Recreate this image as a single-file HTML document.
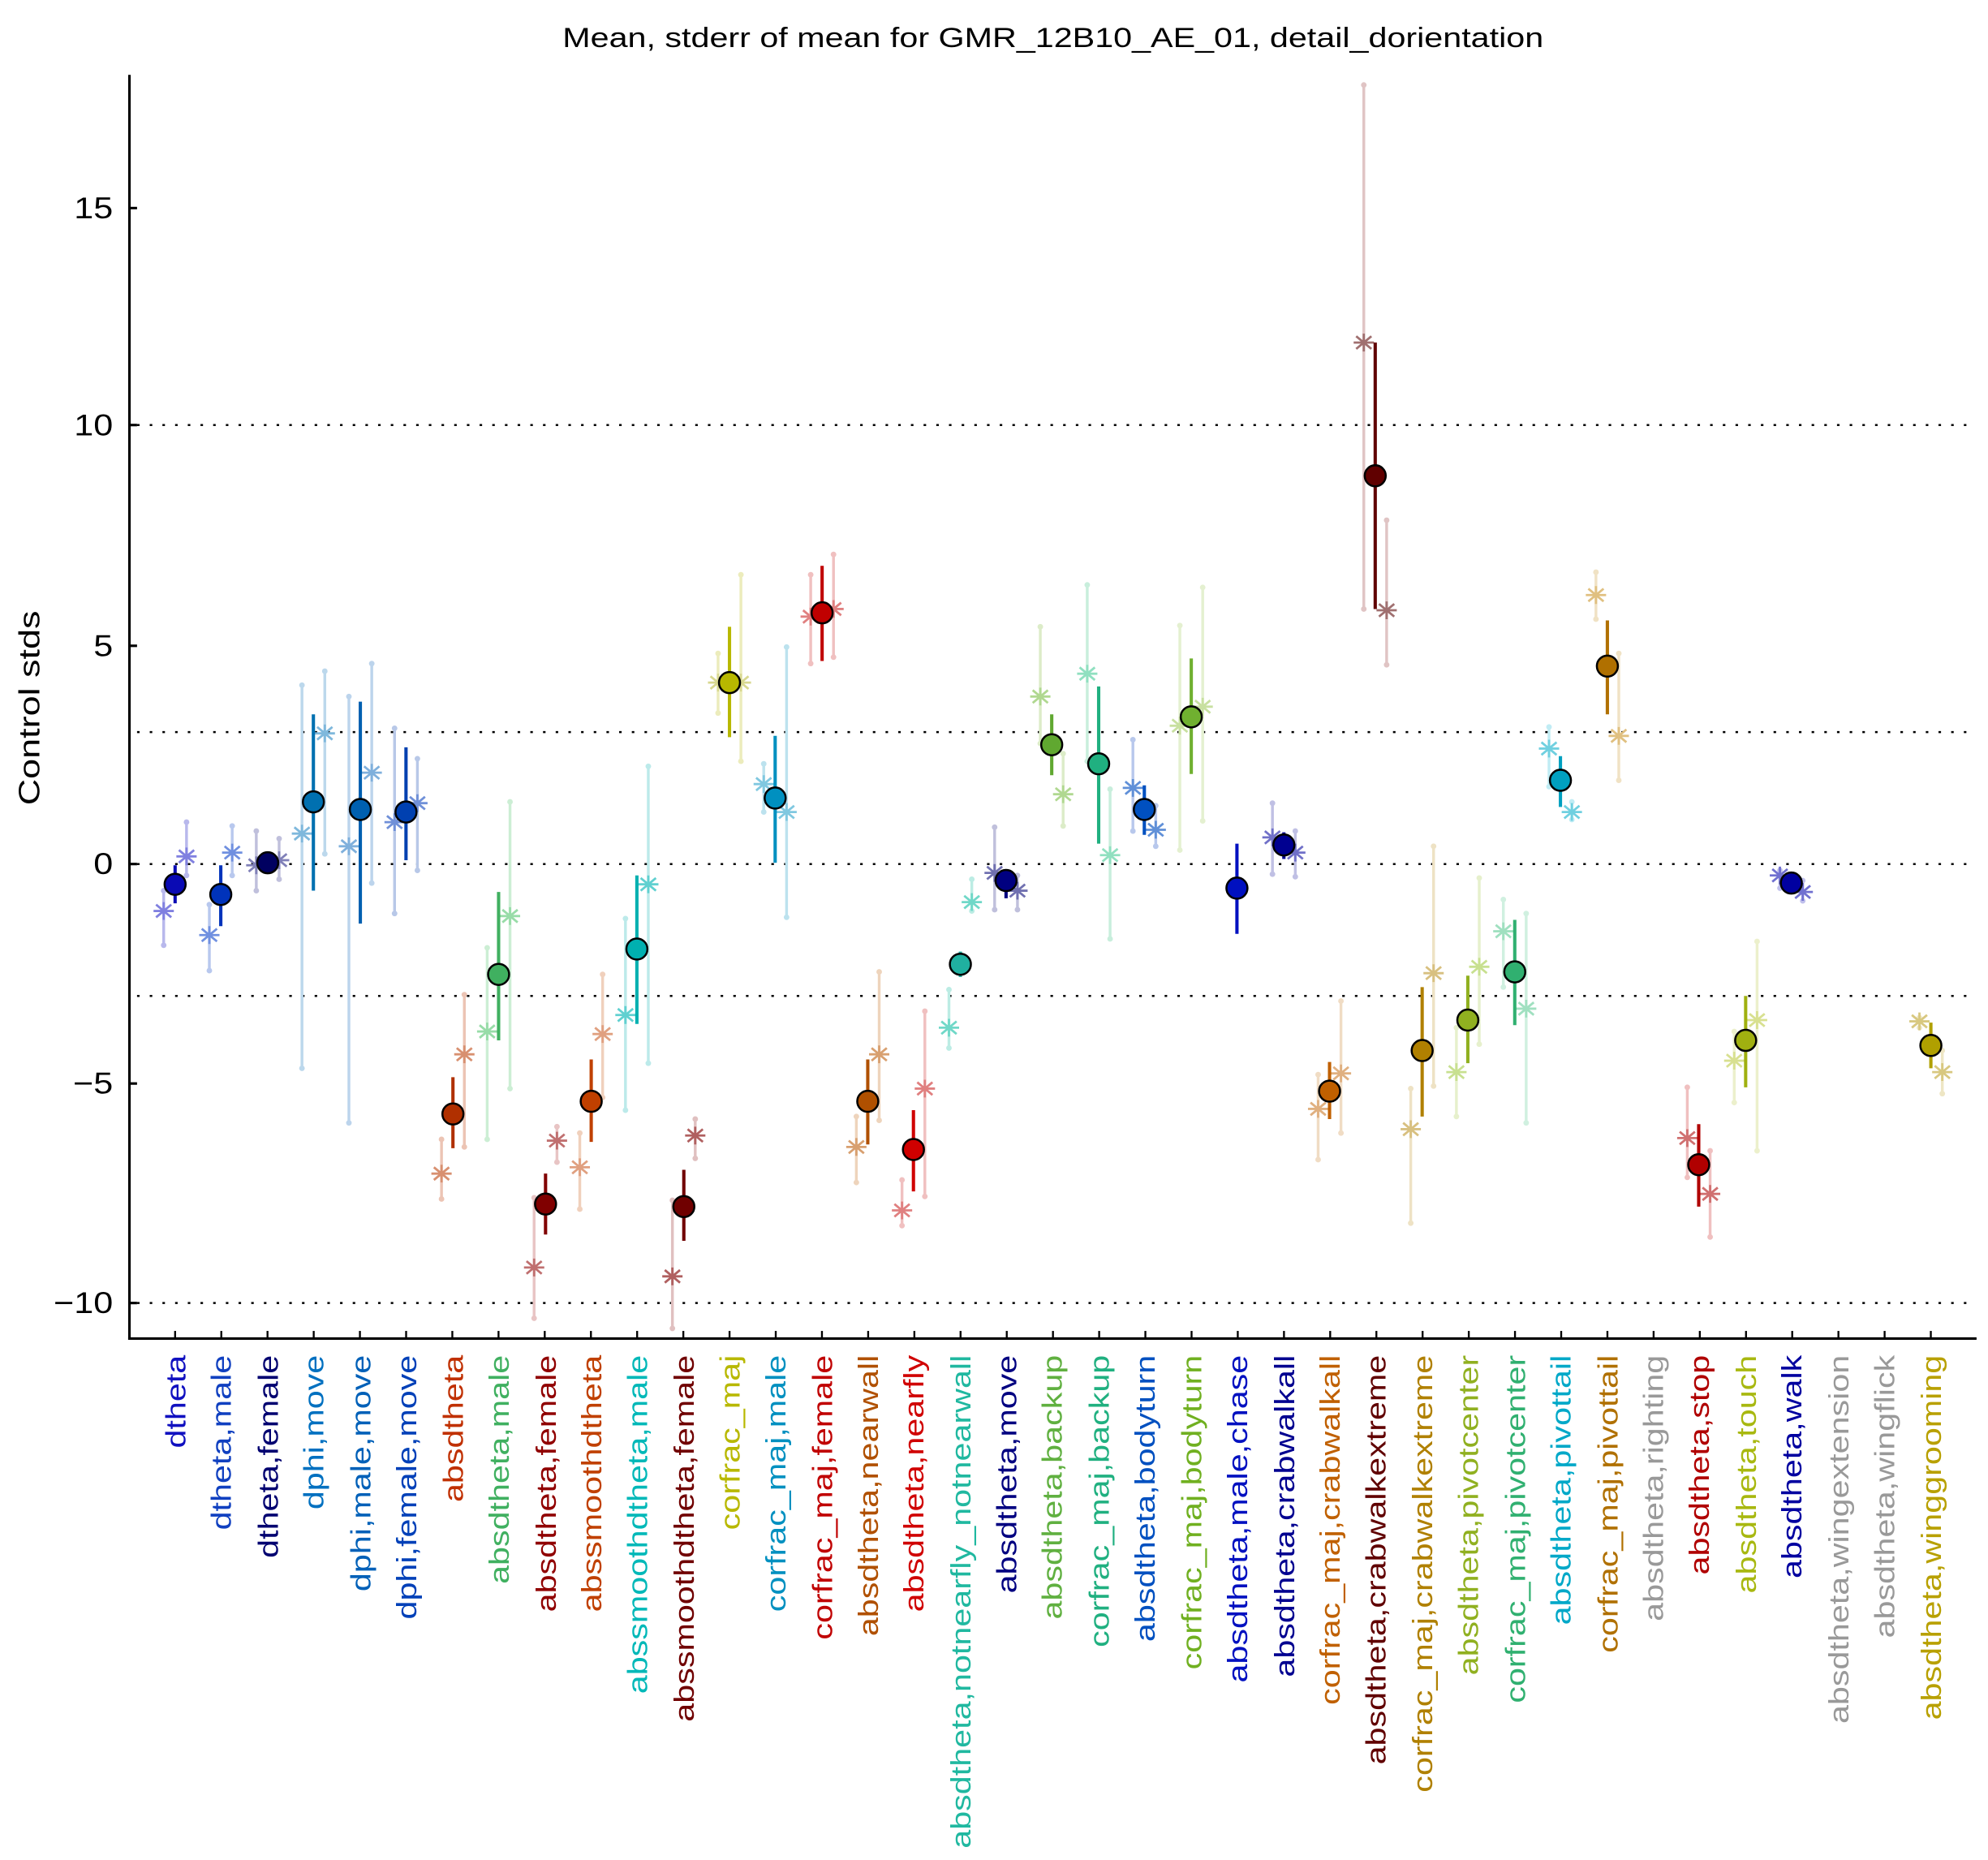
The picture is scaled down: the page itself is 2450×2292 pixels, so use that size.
<!DOCTYPE html>
<html><head><meta charset="utf-8"><style>
html,body{margin:0;padding:0;background:#fff;}
svg{display:block;}
text{font-family:"Liberation Sans",sans-serif;}
</style></head><body>
<svg id="s" width="2450" height="2292" viewBox="0 0 1567 1466" xmlns="http://www.w3.org/2000/svg">
<rect width="1567" height="1466" fill="#fff"/>
<text transform="translate(830,37) scale(1.2,1)" font-size="22" text-anchor="middle">Mean, stderr of mean for GMR_12B10_AE_01, detail_dorientation</text>
<text transform="translate(31,558) rotate(-90) scale(1.25,1)" font-size="23" text-anchor="middle">Control stds</text>
<g font-size="24" text-anchor="end">
<text transform="translate(89,172) scale(1.15,1)">15</text><text transform="translate(89,343) scale(1.15,1)">10</text><text transform="translate(89,517) scale(1.15,1)">5</text>
<text transform="translate(89,689) scale(1.15,1)">0</text><text transform="translate(89,862) scale(1.15,1)">−5</text><text transform="translate(89,1035) scale(1.15,1)">−10</text>
</g>
<g stroke="#000" stroke-width="1.6" stroke-dasharray="2,8" fill="none">
<line x1="108" y1="335" x2="1558" y2="335"/><line x1="108" y1="577" x2="1558" y2="577"/>
<line x1="108" y1="681" x2="1558" y2="681"/><line x1="108" y1="785" x2="1558" y2="785"/>
<line x1="108" y1="1027" x2="1558" y2="1027"/>
</g>
<g stroke="#000" stroke-width="2">
<line x1="102" y1="59" x2="102" y2="1056"/><line x1="101" y1="1055" x2="1558" y2="1055"/>
<line x1="102" y1="164" x2="108" y2="164"/><line x1="102" y1="335" x2="108" y2="335"/>
<line x1="102" y1="509" x2="108" y2="509"/><line x1="102" y1="681" x2="108" y2="681"/>
<line x1="102" y1="854" x2="108" y2="854"/><line x1="102" y1="1027" x2="108" y2="1027"/>
</g>
<g id="marks"></g>
<g font-size="22" text-anchor="end">
<text transform="translate(146,1068) rotate(-90) scale(1.2,1)" fill="#1010c0">dtheta</text>
<text transform="translate(182,1068) rotate(-90) scale(1.2,1)" fill="#1040c0">dtheta,male</text>
<text transform="translate(219,1068) rotate(-90) scale(1.2,1)" fill="#000070">dtheta,female</text>
<text transform="translate(255,1068) rotate(-90) scale(1.2,1)" fill="#0070c0">dphi,move</text>
<text transform="translate(292,1068) rotate(-90) scale(1.2,1)" fill="#0060b8">dphi,male,move</text>
<text transform="translate(328,1068) rotate(-90) scale(1.2,1)" fill="#0040b8">dphi,female,move</text>
<text transform="translate(365,1068) rotate(-90) scale(1.2,1)" fill="#c03000">absdtheta</text>
<text transform="translate(401,1068) rotate(-90) scale(1.2,1)" fill="#40b060">absdtheta,male</text>
<text transform="translate(438,1068) rotate(-90) scale(1.2,1)" fill="#900000">absdtheta,female</text>
<text transform="translate(474,1068) rotate(-90) scale(1.2,1)" fill="#c04000">abssmoothdtheta</text>
<text transform="translate(510,1068) rotate(-90) scale(1.2,1)" fill="#00b8b8">abssmoothdtheta,male</text>
<text transform="translate(547,1068) rotate(-90) scale(1.2,1)" fill="#700000">abssmoothdtheta,female</text>
<text transform="translate(583,1068) rotate(-90) scale(1.2,1)" fill="#b8b800">corfrac_maj</text>
<text transform="translate(619,1068) rotate(-90) scale(1.2,1)" fill="#0090c0">corfrac_maj,male</text>
<text transform="translate(656,1068) rotate(-90) scale(1.2,1)" fill="#c00000">corfrac_maj,female</text>
<text transform="translate(692,1068) rotate(-90) scale(1.2,1)" fill="#b05000">absdtheta,nearwall</text>
<text transform="translate(728,1068) rotate(-90) scale(1.2,1)" fill="#d00000">absdtheta,nearfly</text>
<text transform="translate(765,1068) rotate(-90) scale(1.2,1)" fill="#20b8a0">absdtheta,notnearfly_notnearwall</text>
<text transform="translate(801,1068) rotate(-90) scale(1.2,1)" fill="#000080">absdtheta,move</text>
<text transform="translate(837,1068) rotate(-90) scale(1.2,1)" fill="#60b040">absdtheta,backup</text>
<text transform="translate(874,1068) rotate(-90) scale(1.2,1)" fill="#20b080">corfrac_maj,backup</text>
<text transform="translate(910,1068) rotate(-90) scale(1.2,1)" fill="#0050c0">absdtheta,bodyturn</text>
<text transform="translate(947,1068) rotate(-90) scale(1.2,1)" fill="#70b020">corfrac_maj,bodyturn</text>
<text transform="translate(983,1068) rotate(-90) scale(1.2,1)" fill="#0010c0">absdtheta,male,chase</text>
<text transform="translate(1020,1068) rotate(-90) scale(1.2,1)" fill="#000090">absdtheta,crabwalkall</text>
<text transform="translate(1056,1068) rotate(-90) scale(1.2,1)" fill="#c06000">corfrac_maj,crabwalkall</text>
<text transform="translate(1092,1068) rotate(-90) scale(1.2,1)" fill="#600000">absdtheta,crabwalkextreme</text>
<text transform="translate(1129,1068) rotate(-90) scale(1.2,1)" fill="#b08000">corfrac_maj,crabwalkextreme</text>
<text transform="translate(1165,1068) rotate(-90) scale(1.2,1)" fill="#90b020">absdtheta,pivotcenter</text>
<text transform="translate(1202,1068) rotate(-90) scale(1.2,1)" fill="#30b070">corfrac_maj,pivotcenter</text>
<text transform="translate(1238,1068) rotate(-90) scale(1.2,1)" fill="#00a8c8">absdtheta,pivottail</text>
<text transform="translate(1275,1068) rotate(-90) scale(1.2,1)" fill="#b07000">corfrac_maj,pivottail</text>
<text transform="translate(1311,1068) rotate(-90) scale(1.2,1)" fill="#999999">absdtheta,righting</text>
<text transform="translate(1347,1068) rotate(-90) scale(1.2,1)" fill="#b00000">absdtheta,stop</text>
<text transform="translate(1384,1068) rotate(-90) scale(1.2,1)" fill="#a8b810">absdtheta,touch</text>
<text transform="translate(1420,1068) rotate(-90) scale(1.2,1)" fill="#0000a0">absdtheta,walk</text>
<text transform="translate(1457,1068) rotate(-90) scale(1.2,1)" fill="#999999">absdtheta,wingextension</text>
<text transform="translate(1493,1068) rotate(-90) scale(1.2,1)" fill="#999999">absdtheta,wingflick</text>
<text transform="translate(1530,1068) rotate(-90) scale(1.2,1)" fill="#b8a000">absdtheta,winggrooming</text>
</g>
</svg>
<script>
var D=[
[138,697,682,712,"#0a0ab4",[718,702,745],[675,648,690],"#8080e0","#b8b8ec"],
[174,705,682,730,"#0033bb",[737,713,765],[672,651,690],"#7090e0","#b8c8ee"],
[211,680,674,688,"#000060",[682,655,702],[678,661,693],"#8080b8","#c0c0dc"],
[247,632,563,702,"#0070b0",[657,540,842],[578,529,673],"#7fb8dc","#bcd8ec"],
[284,638,553,728,"#0060b0",[667,549,885],[609,523,696],"#7fb0dc","#bcd4ec"],
[320,640,589,678,"#0040b0",[648,574,720],[633,598,686],"#7090d8","#b8c8e8"],
[357,878,849,905,"#b03000",[925,898,945],[831,784,904],"#d89070","#ecc4b4"],
[393,768,703,820,"#40b060",[813,747,898],[722,632,858],"#98dca8","#cceed4"],
[430,949,925,973,"#800000",[999,944,1039],[899,888,916],"#c07070","#e8c4c4"],
[466,868,835,900,"#c04000",[920,893,953],[815,768,865],"#e0a080","#f0d0bc"],
[502,748,690,807,"#00b0b0",[800,724,875],[697,604,838],"#60d0d0","#bceaea"],
[539,951,922,978,"#700000",[1006,946,1047],[895,882,913],"#b06060","#e0c0c0"],
[575,538,494,581,"#b8b800",[538,515,562],[538,453,600],"#d8d890","#ececbc"],
[611,629,580,680,"#0090c0",[618,602,640],[640,510,723],"#80c8e0","#bce2ee"],
[648,483,446,521,"#c00000",[486,453,523],[480,437,518],"#e08080","#f0c0c0"],
[684,868,835,902,"#b05000",[904,880,932],[831,766,883],"#d8a070","#eed4bc"],
[720,906,875,939,"#d00000",[954,930,966],[858,797,943],"#e08080","#f0c0c0"],
[757,760,750,770,"#20b0a0",[810,780,826],[711,693,718],"#70d8c8","#bcece4"],
[793,694,685,708,"#000080",[688,652,717],[702,690,717],"#7070b0","#c0c0dc"],
[829,587,563,611,"#60a830",[549,494,586],[626,594,651],"#b0d890","#dcecc8"],
[866,602,541,665,"#20b080",[531,461,600],[674,622,740],"#90e0c0","#c8eedc"],
[902,638,619,658,"#0050c0",[621,583,655],[654,635,667],"#6090d8","#b8c8ec"],
[939,565,519,610,"#70b030",[572,493,670],[557,463,647],"#c8e0a0","#e4f0d0"],
[975,700,665,736,"#0010c0",null,null,"#7070d0","#b8b8ec"],
[1012,666,656,677,"#000090",[660,633,689],[672,655,691],"#7070c8","#c0c0e4"],
[1048,860,837,882,"#c06000",[874,847,914],[846,789,893],"#e0b080","#f0dcc4"],
[1084,375,270,480,"#600000",[270,67,480],[481,410,524],"#a07070","#e0c4c4"],
[1121,828,778,880,"#b08000",[890,858,964],[767,667,856],"#d8c080","#eee2c4"],
[1157,804,769,838,"#90b020",[845,810,880],[762,692,823],"#c8e090","#e6f0cc"],
[1194,766,725,808,"#30b070",[734,709,778],[795,720,885],"#a0e0c0","#d0f0e0"],
[1230,615,596,636,"#00a0c0",[590,573,620],[640,632,646],"#70d0e0","#c0ecf4"],
[1267,525,489,563,"#b07000",[469,451,488],[580,515,615],"#e0c080","#f0e2c4"],
[1339,918,886,951,"#b00000",[897,857,928],[941,907,975],"#d07070","#f0c0c0"],
[1376,820,785,857,"#a0b010",[836,813,869],[804,742,907],"#d8e090","#ecf0cc"],
[1412,696,692,700,"#0000a0",[690,686,700],[703,694,710],"#7070d0","#c0c0ec"],
[1522,824,806,842,"#b0a000",[805,802,810],[845,828,862],"#d8c880","#eee6c4"]
];
var ns="http://www.w3.org/2000/svg",g=document.getElementById("marks");
function el(t,a){var e=document.createElementNS(ns,t);for(var k in a)e.setAttribute(k,a[k]);g.appendChild(e);return e;}
function bar(x,t,b,c,w,dots){el("line",{x1:x,y1:t,x2:x,y2:b,stroke:c,"stroke-width":w});
 if(dots){el("circle",{cx:x,cy:t,r:2.2,fill:c});el("circle",{cx:x,cy:b,r:2.2,fill:c});}}
function star(x,y,c){var p="M"+(x-8)+" "+y+"H"+(x+8)+"M"+x+" "+(y-7)+"V"+(y+7)+"M"+(x-6)+" "+(y-5)+"L"+(x+6)+" "+(y+5)+"M"+(x-6)+" "+(y+5)+"L"+(x+6)+" "+(y-5);
 el("path",{d:p,stroke:c,"stroke-width":1.8,fill:"none"});}
for(var i=0;i<39;i++){var tx=138+i*36.42;el("line",{x1:tx,y1:1055,x2:tx,y2:1049,stroke:"#000","stroke-width":1.5});}
D.forEach(function(d){
 var x=d[0];
 if(d[5]){bar(x-9,d[5][1],d[5][2],d[8],2.2,true);star(x-9,d[5][0],d[7]);}
 if(d[6]){bar(x+9,d[6][1],d[6][2],d[8],2.2,true);star(x+9,d[6][0],d[7]);}
 bar(x,d[2],d[3],d[4],2.6,false);
 el("circle",{cx:x,cy:d[1],r:8.3,fill:d[4],stroke:"#000","stroke-width":1.6});
});
</script>
</body></html>
